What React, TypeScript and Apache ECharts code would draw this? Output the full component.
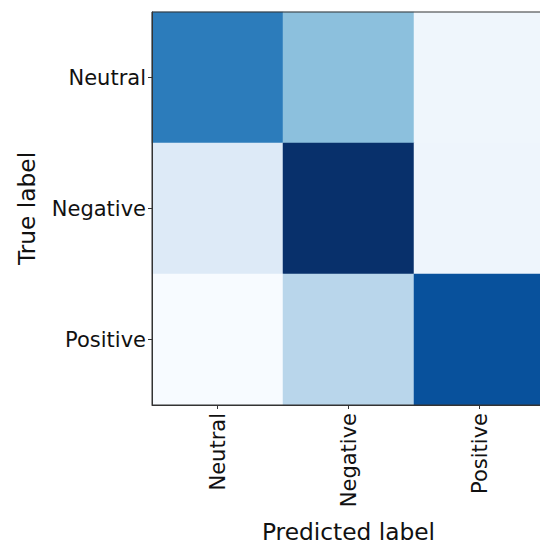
import React, { useEffect, useRef } from "react";
import * as echarts from "echarts";

const predictedLabels = ["Neutral", "Negative", "Positive"];
const trueLabels = ["Neutral", "Negative", "Positive"];
// rows = true label, columns = predicted label
const rowNeutral = [708, 420, 40];
const rowNegative = [130, 1000, 45];
const rowPositive = [0, 290, 875];
const matrix = [rowNeutral, rowNegative, rowPositive];

const blues = ["#f7fbff", "#deebf7", "#c6dbef", "#9ecae1", "#6baed6", "#4292c6", "#2171b5", "#08519c", "#08306b"];

export default function App() {
  const ref = useRef<HTMLDivElement>(null);
  useEffect(() => {
    if (!ref.current) return;
    const chart = echarts.init(ref.current, undefined, { renderer: "svg" });
    const data: [number, number, number][] = [];
    matrix.forEach((row, r) => row.forEach((v, c) => data.push([c, r, v])));
    const flat = matrix.flat();
    const font = "DejaVu Sans";
    chart.setOption({
      animation: false,
      backgroundColor: "#ffffff",
      grid: {
        left: 152,
        top: 12,
        width: 393,
        height: 393,
        containLabel: false,
        outerBoundsMode: "none",
        show: true,
        borderColor: "#333",
        borderWidth: 1,
        backgroundColor: "transparent",
        z: 10,
      },
      visualMap: {
        show: false,
        min: Math.min(...flat),
        max: Math.max(...flat),
        inRange: { color: blues },
      },
      xAxis: {
        type: "category",
        data: predictedLabels,
        name: "Predicted label",
        nameLocation: "middle",
        nameGap: 115,
        nameTextStyle: { fontFamily: font, fontSize: 23.3, color: "#111" },
        axisLine: { show: true, lineStyle: { color: "#333", width: 1 } },
        axisTick: { show: true, alignWithLabel: true, length: 4, lineStyle: { color: "#333" } },
        axisLabel: { rotate: 90, margin: 8, fontFamily: font, fontSize: 21, color: "#111" },
        splitLine: { show: false },
        z: 10,
      },
      yAxis: {
        type: "category",
        data: trueLabels,
        inverse: true,
        name: "True label",
        nameLocation: "middle",
        nameGap: 114,
        nameRotate: 90,
        nameTextStyle: { fontFamily: font, fontSize: 23.3, color: "#111" },
        axisLine: { show: true, lineStyle: { color: "#333", width: 1 } },
        axisTick: { show: true, alignWithLabel: true, length: 4, lineStyle: { color: "#333" } },
        axisLabel: { margin: 6, fontFamily: font, fontSize: 21, color: "#111" },
        splitLine: { show: false },
        z: 10,
      },
      series: [
        {
          type: "heatmap",
          data,
          label: { show: false },
          itemStyle: { borderWidth: 0 },
          emphasis: { disabled: true },
        },
      ],
    });
    return () => chart.dispose();
  }, []);
  return (
    <div
      ref={ref}
      style={{ position: "absolute", left: 0, top: 0, width: 540, height: 544 }}
    />
  );
}
